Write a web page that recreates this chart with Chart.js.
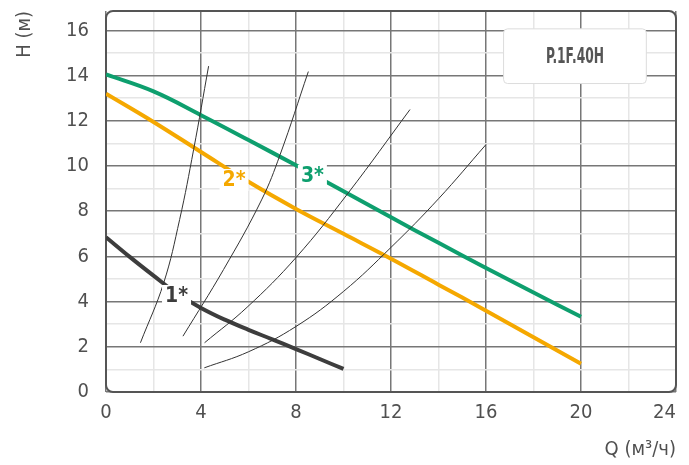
<!DOCTYPE html>
<html>
<head>
<meta charset="utf-8">
<script src="https://cdn.jsdelivr.net/npm/chart.js@4.4.1/dist/chart.umd.min.js"></script>
<style>
  html, body { margin: 0; padding: 0; background: #fff; }
  #wrap { width: 689px; height: 465px; }
</style>
</head>
<body>
<div id="wrap"><canvas id="pumpChart"></canvas></div>
<script>
// pump curves (Q in m3/h, H in m)
var curve1Q = [0, 1, 2, 3, 4, 5, 6, 7, 8, 9, 10];
var curve1H = [6.85, 5.98, 5.15, 4.35, 3.72, 3.2, 2.75, 2.33, 1.9, 1.46, 1.02];
var curve2Q = [0, 2, 4, 6, 8, 10, 12, 14, 16, 18, 20];
var curve2H = [13.2, 11.95, 10.62, 9.3, 8.1, 7.0, 5.9, 4.75, 3.6, 2.42, 1.25];
var curve3Q = [0, 2, 4, 6, 8, 10, 12, 14, 16, 18, 20];
var curve3H = [14.05, 13.3, 12.25, 11.15, 10.03, 8.88, 7.73, 6.6, 5.49, 4.4, 3.33];

// thin system curves
var sysAQ = [1.45, 2.43, 3.1, 3.69, 4.32];
var sysAH = [2.18, 4.83, 7.63, 10.73, 14.42];
var sysBQ = [3.24, 4.95, 6.55, 7.33, 8.52];
var sysBH = [2.47, 5.42, 8.5, 10.5, 14.18];
var sysCQ = [4.15, 5.94, 8.0, 10.2, 12.8];
var sysCH = [2.18, 3.75, 5.95, 8.81, 12.5];
var sysDQ = [4.14, 6, 8, 10, 12, 14, 16];
var sysDH = [1.07, 1.78, 2.9, 4.45, 6.4, 8.55, 10.95];

var xTickLabels = [0, 4, 8, 12, 16, 20, 24];
var yTickLabels = [0, 2, 4, 6, 8, 10, 12, 14, 16];
var curveNames = ['1*', '2*', '3*'];
var modelName = 'P.1F.40H';

var FONT = "'DejaVu Sans Condensed', 'Liberation Sans Narrow', Roboto, sans-serif";
var TXT = '#505050';

function pts(qs, hs) {
  var out = [];
  for (var i in qs) out.push({ x: qs[i], y: hs[i] });
  return out;
}

function thin(qs, hs) {
  return { data: pts(qs, hs), borderColor: '#333', borderWidth: 1, pointRadius: 0,
           tension: 0.4, fill: false };
}

function thick(qs, hs, color) {
  return { data: pts(qs, hs), borderColor: color, borderWidth: 4, pointRadius: 0,
           tension: 0.4, fill: false, borderCapStyle: 'butt' };
}

// where the curve names sit, in axis units
var nameSpots = [
  { q: 2.97, h: 4.25, color: '#3d3d3d' },
  { q: 5.39, h: 9.38, color: '#f5a800' },
  { q: 8.69, h: 9.56, color: '#0e9f6e' }
];

var framePlugin = {
  id: 'frame',
  beforeDatasetsDraw: function(chart) {
    var a = chart.chartArea, c = chart.ctx;
    c.save();
    c.strokeStyle = '#555';
    c.lineWidth = 2;
    c.beginPath();
    c.roundRect(a.left, a.top, a.right - a.left, a.bottom - a.top, 7);
    c.stroke();
    c.restore();
  }
};

var notesPlugin = {
  id: 'notes',
  afterDatasetsDraw: function(chart) {
    var c = chart.ctx, xs = chart.scales.x, ys = chart.scales.y;
    c.save();
    c.font = 'bold 21px ' + FONT;
    c.textAlign = 'center';
    c.textBaseline = 'middle';
    nameSpots.forEach(function(s, i) {
      var px = xs.getPixelForValue(s.q), py = ys.getPixelForValue(s.h);
      var w = c.measureText(curveNames[i]).width + 6;
      c.fillStyle = '#fff';
      c.fillRect(px - w / 2, py - 11, w, 22);
      c.fillStyle = s.color;
      c.fillText(curveNames[i], px, py + 1);
    });

    // model box
    var l = xs.getPixelForValue(16.74), r = xs.getPixelForValue(22.75);
    var t = ys.getPixelForValue(16.07), b = ys.getPixelForValue(13.65);
    c.fillStyle = '#fff';
    c.strokeStyle = '#dcdcdc';
    c.lineWidth = 1;
    c.beginPath();
    c.roundRect(l, t, r - l, b - t, 4);
    c.fill();
    c.stroke();
    c.font = 'bold 22px ' + FONT;
    var tw = c.measureText(modelName).width;
    c.translate((l + r) / 2, (t + b) / 2 + 1);
    c.scale(58 / tw, 1);
    c.fillStyle = '#555';
    c.fillText(modelName, 0, 0);
    c.restore();
  }
};

new Chart(document.getElementById('pumpChart'), {
  type: 'line',
  data: {
    datasets: [
      thin(sysAQ, sysAH), thin(sysBQ, sysBH), thin(sysCQ, sysCH), thin(sysDQ, sysDH),
      thick(curve1Q, curve1H, '#3d3d3d'),
      thick(curve2Q, curve2H, '#f5a800'),
      thick(curve3Q, curve3H, '#0e9f6e')
    ]
  },
  options: {
    responsive: true,
    maintainAspectRatio: false,
    animation: false,
    layout: { padding: { top: 11, right: 13, left: 0, bottom: 0 } },
    plugins: { legend: { display: false }, tooltip: { enabled: false } },
    scales: {
      x: {
        type: 'linear', min: 0, max: 24,
        border: { display: false },
        grid: {
          drawTicks: false,
          lineWidth: 1.5,
          color: function(ctx) { return ctx.tick && ctx.tick.value % 4 === 0 ? '#777' : '#e6e6e6'; }
        },
        ticks: {
          stepSize: 2, includeBounds: false, padding: 9, maxRotation: 0, autoSkip: false,
          color: TXT, font: { family: FONT, size: 20 },
          callback: function(v) {
            if (xTickLabels.indexOf(v) < 0) return '';
            // last label sits inside the frame, as in the original
            return v === 24 ? v + '\u2007\u2007' : String(v);
          }
        },
        title: { display: true, text: 'Q (м³/ч)', align: 'end', color: TXT,
                 font: { family: FONT, size: 20 }, padding: { top: 0, bottom: 3 } },
        afterFit: function(s) { s.height = 73; s.paddingLeft = 0; s.paddingRight = 0; }
      },
      y: {
        min: 0, max: 16.86,
        border: { display: false },
        grid: {
          drawTicks: false,
          lineWidth: 1.5,
          color: function(ctx) { return ctx.tick && ctx.tick.value % 2 === 0 ? '#777' : '#e6e6e6'; }
        },
        ticks: {
          stepSize: 1, includeBounds: false, padding: 17, autoSkip: false,
          color: TXT, font: { family: FONT, size: 20 },
          callback: function(v) { return yTickLabels.indexOf(v) >= 0 ? String(v) : ''; }
        },
        title: { display: true, text: 'H (м)', align: 'end', color: TXT,
                 font: { family: FONT, size: 20 }, padding: { top: 13, bottom: 0 } },
        afterFit: function(s) { s.width = 106; s.paddingTop = 0; s.paddingBottom = 0; }
      }
    }
  },
  plugins: [framePlugin, notesPlugin]
});
</script>
</body>
</html>
